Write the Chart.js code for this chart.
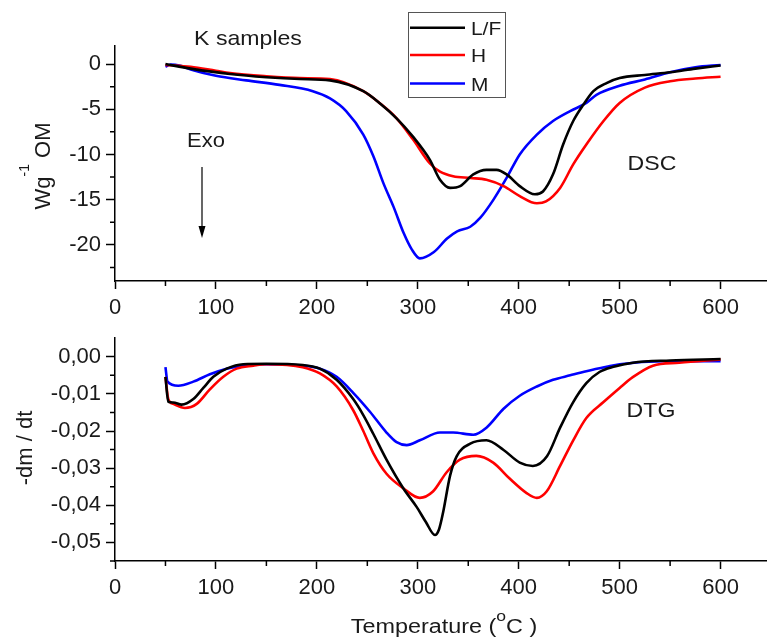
<!DOCTYPE html>
<html>
<head>
<meta charset="utf-8">
<script src="https://cdn.jsdelivr.net/npm/chart.js@4.4.1/dist/chart.umd.min.js"></script>
<style>
html, body { margin: 0; padding: 0; background: #fff; }
#wrap { position: relative; width: 767px; height: 643px; }
canvas { position: absolute; left: 0; }
</style>
</head>
<body>
<div id="wrap">
<canvas id="dsc" width="767" height="320" style="top:0"></canvas>
<canvas id="dtg" width="767" height="323" style="top:320px"></canvas>
</div>
<script>
// ---- data ----
var seriesNames = ['L/F', 'H', 'M'];
var seriesColors = ['#000000', '#ff0000', '#0000ff'];

var xTicks = [0, 100, 200, 300, 400, 500, 600];
var dscTicks = [0, -5, -10, -15, -20];
var dtgTicks = [0, -0.01, -0.02, -0.03, -0.04, -0.05];

// DSC (W g-1 OM)
var dscLfT = [50,75,114,150,183,213,246,262,279,295,312,322,332,342,355,368,378,388,401,416,424,434,444,454,464,474,487,500,525,550,575,600];
var dscLfV = [0,-0.5,-1.1,-1.45,-1.65,-1.8,-3.0,-4.3,-6.0,-8.0,-10.6,-12.8,-13.7,-13.5,-12.2,-11.7,-11.7,-12.2,-13.5,-14.4,-14.1,-12.2,-8.9,-6.3,-4.5,-3.0,-2.1,-1.55,-1.2,-0.9,-0.5,-0.15];
var dscHT = [50,75,100,114,150,183,213,246,262,279,295,312,322,335,352,368,385,401,418,427,441,454,467,484,500,525,550,575,600];
var dscHV = [-0.1,-0.3,-0.75,-1.0,-1.35,-1.55,-1.66,-3.0,-4.3,-6.0,-8.3,-11.0,-11.9,-12.4,-12.6,-12.8,-13.5,-14.6,-15.4,-15.2,-13.7,-11.1,-8.9,-6.3,-4.3,-2.6,-1.9,-1.6,-1.4];
var dscMT = [50,55,65,75,100,130,163,196,213,229,246,256,266,276,286,294,302,316,329,339,352,362,375,388,401,418,434,451,467,477,500,525,550,575,600];
var dscMV = [-0.3,-0.05,-0.2,-0.6,-1.3,-1.8,-2.3,-3.0,-3.8,-5.2,-7.8,-10.2,-13.2,-15.8,-18.7,-20.5,-21.5,-20.8,-19.3,-18.5,-18.0,-17.0,-15.0,-12.6,-10.0,-7.8,-6.3,-5.2,-4.3,-3.4,-2.4,-1.7,-0.9,-0.35,-0.1];

// DTG (-dm/dt)
var dtgLfT = [50,52.8,57.7,66,77.6,87.5,97.4,110.6,127,150,186,203,219.6,236,246,256,269,285.6,299,308,317,321,325,332,338.5,352,368,385,401,414,428,441,454,467,480,494,513,550,600];
var dtgLfV = [-0.0054,-0.0121,-0.0123,-0.0129,-0.0114,-0.0084,-0.0054,-0.0032,-0.002,-0.0019,-0.0022,-0.0032,-0.0062,-0.0114,-0.0157,-0.0208,-0.0277,-0.0354,-0.0405,-0.0445,-0.048,-0.0465,-0.042,-0.032,-0.0268,-0.0234,-0.0225,-0.0251,-0.0285,-0.0294,-0.0268,-0.0191,-0.0122,-0.0071,-0.0041,-0.0027,-0.0016,-0.001,-0.0006];
var dtgHT = [50,52.8,57.7,69.3,81,94,107.3,120.5,137,150,186,203,219.6,236,246,256,269,285.6,302,315,328.6,341.7,358,374.7,391,407.8,418,427.6,441,454,467,484,500,513,533,559,600];
var dtgHV = [-0.0054,-0.0114,-0.0127,-0.0138,-0.0127,-0.0088,-0.0054,-0.0032,-0.0024,-0.002,-0.0028,-0.0045,-0.008,-0.0144,-0.02,-0.026,-0.0315,-0.0354,-0.038,-0.0363,-0.0311,-0.0277,-0.0267,-0.0285,-0.0328,-0.0367,-0.038,-0.0363,-0.0294,-0.0225,-0.0165,-0.0122,-0.0084,-0.0055,-0.0024,-0.0016,-0.0007];
var dtgMT = [50,52,62.7,77.6,94,110.6,127,143.6,186,203,219.6,236,252.6,269,279,289,302,322,335,355,368,385,401,418,434,451,467,487,500,543,600];
var dtgMV = [-0.0028,-0.0067,-0.0078,-0.0067,-0.0047,-0.0032,-0.0024,-0.002,-0.0024,-0.0032,-0.0054,-0.0097,-0.0148,-0.0204,-0.023,-0.0238,-0.0225,-0.0204,-0.0204,-0.021,-0.0191,-0.014,-0.0105,-0.008,-0.0062,-0.005,-0.0039,-0.0027,-0.002,-0.0012,-0.0012];

var FONT = '"Liberation Sans", Arial, sans-serif';
var TEXT = '#1a1a1a';

function toPoints(t, v) {
    return t.map(function (x, i) { return { x: x, y: v[i] }; });
}

function makeDatasets(pairs) {
    return pairs.map(function (p, i) {
        return {
            label: seriesNames[i],
            data: toPoints(p[0], p[1]),
            borderColor: seriesColors[i],
            backgroundColor: seriesColors[i],
            borderWidth: 2.6,
            pointRadius: 0,
            cubicInterpolationMode: 'monotone',
            fill: false
        };
    });
}

// draws text made of normal / superscript parts, centred on cx
function drawParts(ctx, parts, cx, base, size, stretch, supSize, supRaise) {
    ctx.save();
    ctx.translate(cx, base);
    ctx.scale(stretch, 1);
    ctx.fillStyle = TEXT;
    ctx.textBaseline = 'alphabetic';
    ctx.textAlign = 'left';
    var total = 0;
    parts.forEach(function (p) {
        ctx.font = (p[1] ? supSize : size) + 'px ' + FONT;
        total += ctx.measureText(p[0]).width;
    });
    var x = -total / 2;
    parts.forEach(function (p) {
        ctx.font = (p[1] ? supSize : size) + 'px ' + FONT;
        ctx.fillText(p[0], x, p[1] ? -supRaise : 0);
        x += ctx.measureText(p[0]).width;
    });
    ctx.restore();
}

var minorTicks = {
    id: 'minorTicks',
    afterDraw: function (chart, args, opts) {
        var ctx = chart.ctx, a = chart.chartArea, sx = chart.scales.x, sy = chart.scales.y;
        ctx.save();
        ctx.strokeStyle = '#000';
        ctx.lineWidth = 1.5;
        ctx.beginPath();
        opts.x.forEach(function (v) {
            if (v > sx.max) return;
            var p = sx.getPixelForValue(v);
            ctx.moveTo(p, a.bottom); ctx.lineTo(p, a.bottom + 5);
        });
        opts.y.forEach(function (v) {
            if (v < sy.min || v > sy.max) return;
            var p = sy.getPixelForValue(v);
            ctx.moveTo(a.left - 5, p); ctx.lineTo(a.left, p);
        });
        ctx.stroke();
        ctx.restore();
    }
};

var whiteBg = {
    id: 'whiteBg',
    beforeDraw: function (chart) {
        var ctx = chart.ctx;
        ctx.save();
        ctx.fillStyle = '#fff';
        ctx.fillRect(0, 0, chart.width, chart.height);
        ctx.restore();
    }
};

function xAxis(height) {
    return {
        type: 'linear',
        min: 0,
        max: 645,
        afterBuildTicks: function (s) { s.ticks = xTicks.map(function (v) { return { value: v }; }); },
        afterFit: function (s) { s.height = height; },
        ticks: { font: { family: FONT, size: 22 }, color: TEXT, maxRotation: 0, autoSkip: false, padding: 6 },
        grid: { drawOnChartArea: false, color: '#000', tickLength: 8, tickWidth: 1.5 },
        border: { color: '#000', width: 1.5 }
    };
}

function yAxis(min, max, ticks, fmt) {
    return {
        type: 'linear',
        min: min,
        max: max,
        afterBuildTicks: function (s) { s.ticks = ticks.map(function (v) { return { value: v }; }); },
        afterFit: function (s) { s.width = 115; },
        ticks: { font: { family: FONT, size: 22 }, color: TEXT, padding: 5, callback: fmt },
        grid: { drawOnChartArea: false, color: '#000', tickLength: 9, tickWidth: 1.5 },
        border: { color: '#000', width: 1.5 }
    };
}

var dscChart = new Chart(document.getElementById('dsc'), {
    type: 'line',
    data: {
        datasets: makeDatasets([[dscLfT, dscLfV], [dscHT, dscHV], [dscMT, dscMV]])
    },
    options: {
        animation: false,
        responsive: false,
        layout: { padding: { top: 46, right: 1, left: 0, bottom: 0 } },
        plugins: {
            legend: { display: false },
            tooltip: { enabled: false },
            minorTicks: { x: xTicks.map(function (v) { return v + 50; }), y: dscTicks.map(function (v) { return v - 2.5; }) }
        },
        scales: {
            x: xAxis(39),
            y: yAxis(-24, 2, dscTicks, function (v) { return String(v); })
        }
    },
    plugins: [whiteBg, minorTicks, {
        id: 'dscText',
        afterDraw: function (chart) {
            var ctx = chart.ctx;
            drawParts(ctx, [['K samples']], 248, 45, 21, 1.1);
            drawParts(ctx, [['Exo']], 206, 147, 20, 1.1);
            drawParts(ctx, [['DSC']], 652, 170, 21, 1.1);
            // Exo arrow
            ctx.save();
            ctx.strokeStyle = '#000';
            ctx.fillStyle = '#000';
            ctx.lineWidth = 1.2;
            ctx.beginPath(); ctx.moveTo(202, 167); ctx.lineTo(202, 228); ctx.stroke();
            ctx.beginPath(); ctx.moveTo(198.5, 226); ctx.lineTo(205.5, 226); ctx.lineTo(202, 238); ctx.closePath(); ctx.fill();
            ctx.restore();
            // y title
            ctx.save();
            ctx.translate(50, 166);
            ctx.rotate(-Math.PI / 2);
            drawParts(ctx, [['Wg'], ['-1', true], [' OM']], 0, 0, 22, 1, 14, 21);
            ctx.restore();
            // legend
            ctx.save();
            ctx.strokeStyle = '#555';
            ctx.lineWidth = 1;
            ctx.strokeRect(408.5, 12.5, 97, 85);
            var rows = [27.7, 55, 83.5];
            chart.data.datasets.forEach(function (ds, i) {
                ctx.strokeStyle = ds.borderColor;
                ctx.lineWidth = 2.5;
                ctx.beginPath(); ctx.moveTo(410, rows[i]); ctx.lineTo(465, rows[i]); ctx.stroke();
                ctx.save();
                ctx.translate(471, rows[i] + 7);
                ctx.scale(1.1, 1);
                ctx.fillStyle = TEXT;
                ctx.font = '19px ' + FONT;
                ctx.textAlign = 'left';
                ctx.fillText(ds.label, 0, 0);
                ctx.restore();
            });
            ctx.restore();
        }
    }]
});

var dtgChart = new Chart(document.getElementById('dtg'), {
    type: 'line',
    data: {
        datasets: makeDatasets([[dtgLfT, dtgLfV], [dtgHT, dtgHV], [dtgMT, dtgMV]])
    },
    options: {
        animation: false,
        responsive: false,
        layout: { padding: { top: 6, right: 1, left: 0, bottom: 0 } },
        plugins: {
            legend: { display: false },
            tooltip: { enabled: false },
            minorTicks: { x: xTicks.map(function (v) { return v + 50; }), y: dtgTicks.map(function (v) { return v - 0.005; }) }
        },
        scales: {
            x: xAxis(82),
            y: yAxis(-0.055, 0.005, dtgTicks, function (v) { return v.toFixed(2).replace('.', ','); })
        }
    },
    plugins: [whiteBg, minorTicks, {
        id: 'dtgText',
        afterDraw: function (chart) {
            var ctx = chart.ctx;
            drawParts(ctx, [['DTG']], 651, 97, 21, 1.1);
            drawParts(ctx, [['Temperature ('], ['o', true], ['C )']], 444, 313, 20, 1.17, 15, 12);
            ctx.save();
            ctx.translate(32, 128);
            ctx.rotate(-Math.PI / 2);
            drawParts(ctx, [['-dm / dt']], 0, 0, 22, 1);
            ctx.restore();
        }
    }]
});
</script>
</body>
</html>
